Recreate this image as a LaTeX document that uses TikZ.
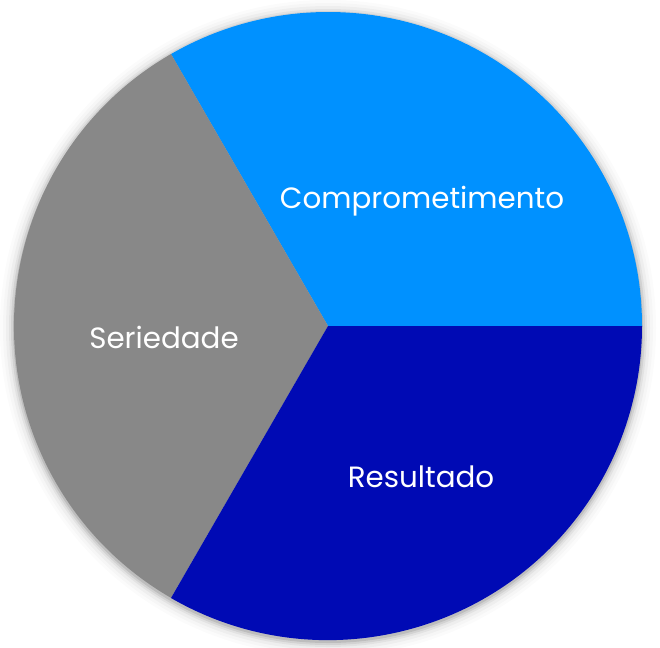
\documentclass[tikz,border=0pt]{standalone}
\usepackage{fontspec}
\setmainfont{Poppins}
\definecolor{lightblue}{RGB}{0,145,255}
\definecolor{darkblue}{RGB}{0,10,180}
\definecolor{slicegray}{RGB}{136,136,136}
\tikzset{
  label text/.style={text=white,inner sep=0.75pt,font=\fontsize{22}{26}\selectfont}
}
\begin{document}
\begin{tikzpicture}[x=0.75pt,y=0.75pt,yscale=-1,xscale=1]
\useasboundingbox (0,0) rectangle (660,647);

%Shadow
\foreach \r/\o in {328/0.015,325/0.02,322/0.03,319/0.05,317/0.07,315/0.1}
  \fill [black,opacity=\o] (328,328) circle (\r);

%Shape: Sector [id:light]
\fill [lightblue] (328,326) -- (642,326) arc (0:-120:314) -- cycle ;
%Shape: Sector [id:gray]
\fill [slicegray] (328,326) -- (171,54) arc (-120:-240:314) -- cycle ;
%Shape: Sector [id:dark]
\fill [darkblue] (328,326) -- (171,598) arc (-240:-360:314) -- cycle ;

% Text Node
\node [label text] (compr) at (422,201) {Comprometimento};
% Text Node
\node [label text] (seried) at (164,337) {Seriedade};
% Text Node
\node [label text] (result) at (421,477) {Resultado};

\end{tikzpicture}
\end{document}
